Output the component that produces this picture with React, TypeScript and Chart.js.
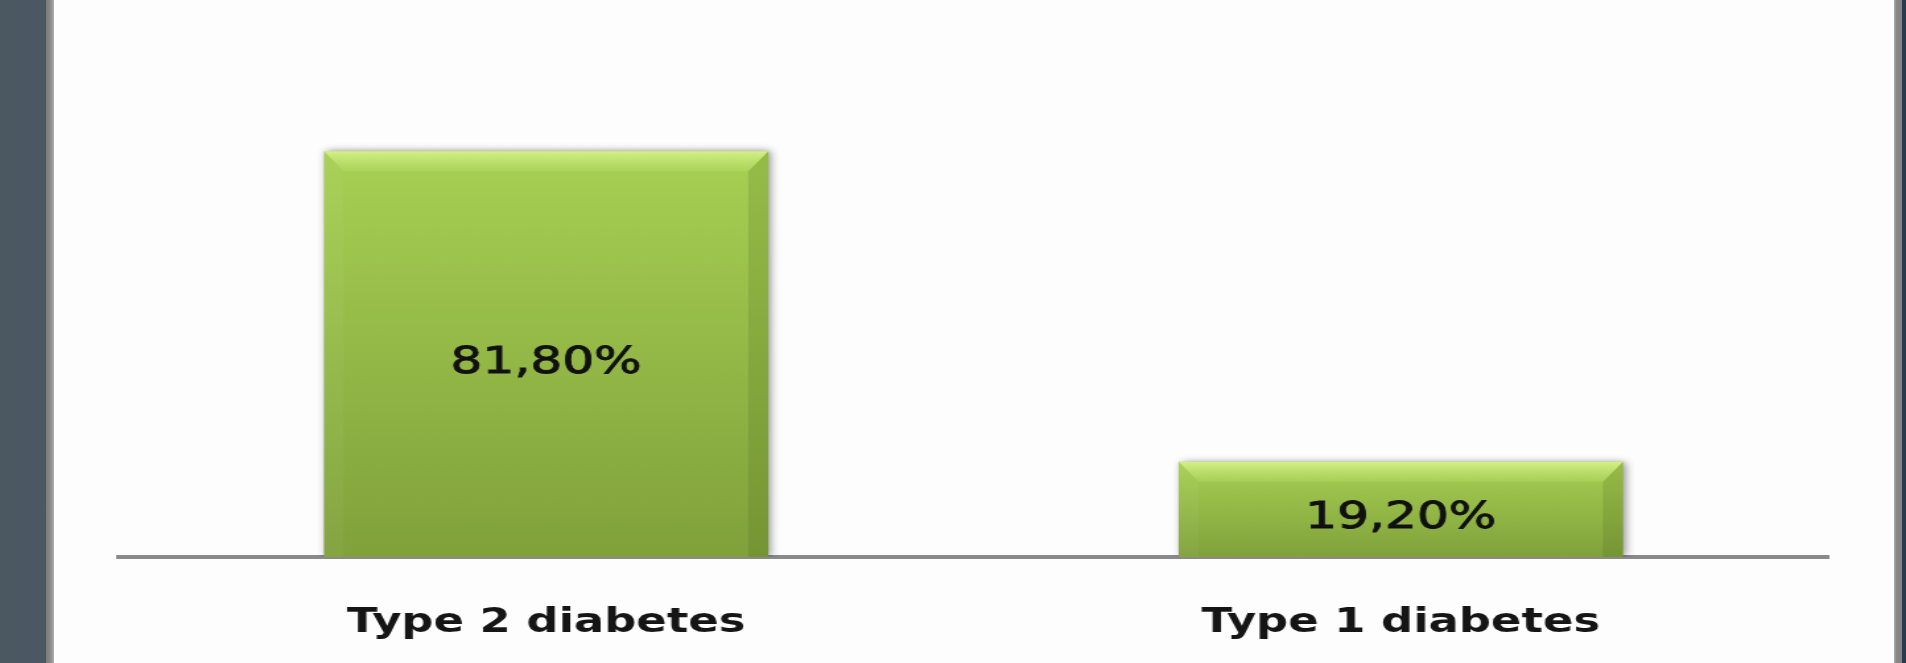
import React, { useEffect, useRef } from "react";
import { Chart, registerables } from "chart.js";

Chart.register(...registerables);

const categories: string[] = ["Type 2 diabetes", "Type 1 diabetes"];
const shares: number[] = [81.8, 19.2];
const yMin = 0;
const yMax = 100;

// canvas is drawn narrow and stretched horizontally, like the reference
const INNER_W = 1444;
const OUTER_W = 1906;
const H = 663;
const STRETCH = OUTER_W / INNER_W;

const fmt = (v: number) => v.toFixed(2).replace(".", ",") + "%";

const shadowPlugin = {
  id: "barShadow",
  beforeDatasetDraw(chart: any) {
    const ctx = chart.ctx;
    ctx.save();
    ctx.shadowColor = "rgba(0,0,0,0.45)";
    ctx.shadowBlur = 7;
    ctx.shadowOffsetX = 2;
    ctx.shadowOffsetY = 0;
  },
  afterDatasetDraw(chart: any) {
    chart.ctx.restore();
  },
};

const bevelPlugin = {
  id: "bevelAndLabels",
  afterDatasetsDraw(chart: any) {
    const ctx = chart.ctx;
    const meta = chart.getDatasetMeta(0);
    const ds = chart.data.datasets[0];
    meta.data.forEach((el: any, i: number) => {
      const { x, y, base, width } = el.getProps(["x", "y", "base", "width"], true);
      const left = x - width / 2;
      const right = x + width / 2;
      const top = Math.min(y, base);
      const bottom = Math.max(y, base);
      const bv = 20;
      const bh = bv / STRETCH;
      ctx.save();
      // top bevel
      const g = ctx.createLinearGradient(0, top, 0, top + bv);
      g.addColorStop(0, "rgba(225,248,150,0.8)");
      g.addColorStop(1, "rgba(195,232,115,0.25)");
      ctx.fillStyle = g;
      ctx.beginPath();
      ctx.moveTo(left, top);
      ctx.lineTo(right, top);
      ctx.lineTo(right - bh, top + bv);
      ctx.lineTo(left + bh, top + bv);
      ctx.closePath();
      ctx.fill();
      // right darker edge
      ctx.fillStyle = "rgba(60,85,20,0.16)";
      ctx.beginPath();
      ctx.moveTo(right, top);
      ctx.lineTo(right, bottom);
      ctx.lineTo(right - bh, bottom);
      ctx.lineTo(right - bh, top + bv);
      ctx.closePath();
      ctx.fill();
      // left slightly lighter edge
      ctx.fillStyle = "rgba(255,255,255,0.04)";
      ctx.beginPath();
      ctx.moveTo(left, top);
      ctx.lineTo(left + bh, top + bv);
      ctx.lineTo(left + bh, bottom);
      ctx.lineTo(left, bottom);
      ctx.closePath();
      ctx.fill();
      // value label
      ctx.fillStyle = "#111111";
      ctx.strokeStyle = "#111111";
      ctx.lineWidth = 0.9;
      ctx.font = "normal 38px 'DejaVu Sans'";
      ctx.textAlign = "center";
      ctx.textBaseline = "middle";
      const ty = (top + bottom) / 2 + 9;
      ctx.fillText(fmt(ds.data[i] as number), x, ty);
      ctx.strokeText(fmt(ds.data[i] as number), x, ty);
      ctx.restore();
    });
  },
};

export default function App() {
  const ref = useRef<HTMLCanvasElement | null>(null);

  useEffect(() => {
    if (!ref.current) return;
    const chart = new Chart(ref.current, {
      type: "bar",
      data: {
        labels: categories,
        datasets: [
          {
            data: shares,
            borderWidth: 0,
            barPercentage: 0.52,
            categoryPercentage: 1,
            backgroundColor: (c: any) => {
              const ch = c.chart;
              const ys = ch.scales && ch.scales.y;
              const v = c.raw as number;
              if (!ys || !ch.chartArea || typeof v !== "number") return "#95bd48";
              const t = ys.getPixelForValue(v);
              const b = ys.getPixelForValue(0);
              const g = ch.ctx.createLinearGradient(0, t, 0, b);
              g.addColorStop(0, "#a7d053");
              g.addColorStop(1, "#80a13b");
              return g;
            },
          },
        ],
      },
      options: {
        animation: false,
        responsive: false,
        maintainAspectRatio: false,
        devicePixelRatio: 1,
        layout: { padding: { left: 90, right: 59, top: 61, bottom: 0 } },
        plugins: {
          legend: { display: false },
          tooltip: { enabled: false },
          title: { display: false },
        },
        scales: {
          x: {
            z: 1,
            grid: { display: false },
            border: { display: true, color: "#8a8a8a", width: 4 },
            ticks: {
              color: "#151515",
              padding: 38,
              font: { family: "'DejaVu Sans'", size: 34, weight: "bold" },
            },
            afterFit: (scale: any) => {
              scale.height = 106;
            },
          },
          y: {
            display: false,
            min: yMin,
            max: yMax,
          },
        },
      },
      plugins: [shadowPlugin, bevelPlugin],
    } as any);
    return () => chart.destroy();
  }, []);

  return (
    <div
      style={{
        position: "fixed",
        left: 0,
        top: 0,
        width: OUTER_W,
        height: H,
        overflow: "hidden",
        background: "#fdfdfd",
      }}
    >
      <canvas
        ref={ref}
        width={INNER_W}
        height={H}
        style={{ position: "absolute", left: 0, top: 0, width: OUTER_W + "px", height: H + "px" }}
      />
      <div style={{ position: "absolute", left: 0, top: 0, width: 46, height: H, background: "#4b5761" }} />
      <div
        style={{
          position: "absolute",
          left: 46,
          top: 0,
          width: 8,
          height: H,
          background: "linear-gradient(to right, #7a7a7a, #8c8c8c 60%, #b0b0b0)",
        }}
      />
      <div
        style={{
          position: "absolute",
          left: 1894,
          top: 0,
          width: 8,
          height: H,
          background: "linear-gradient(to right, #b0b0b0, #888888 30%, #828282)",
        }}
      />
      <div style={{ position: "absolute", left: 1902, top: 0, width: 4, height: H, background: "#2b3a48" }} />
    </div>
  );
}
